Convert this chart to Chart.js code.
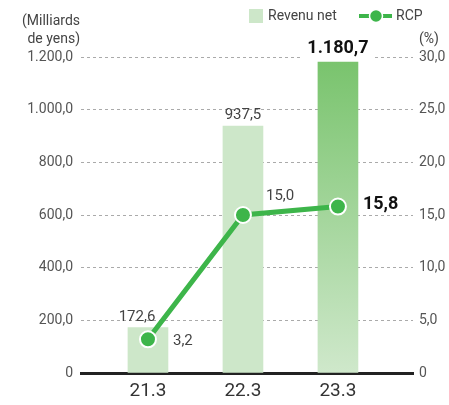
<!DOCTYPE html>
<html>
<head>
<meta charset="utf-8">
<script src="https://cdn.jsdelivr.net/npm/chart.js@4"></script>
<style>
  html, body { margin: 0; padding: 0; background: #fff; }
  #wrap { width: 449px; height: 405px; position: relative; }
</style>
</head>
<body>
<div id="wrap"><canvas id="graphique"></canvas></div>
<script>
// --- DONNEES ---
const categories = ["21.3", "22.3", "23.3"];
const revenuNet = [172.6, 937.5, 1180.7];
const rcp = [3.2, 15.0, 15.8];
const revenuLabels = ["172,6", "937,5", "1.180,7"];
const rcpLabels = ["3,2", "15,0", "15,8"];

const vertClair = "#cde7c9";
const vertLigne = "#3db54a";
const police = "Roboto, 'DejaVu Sans', sans-serif";

function fr(v, dec) {
  if (v === 0) return "0";
  const s = v.toFixed(dec).split(".");
  const ent = s[0].replace(/\B(?=(\d{3})+(?!\d))/g, ".");
  return ent + "," + s[1];
}

// --- PLUGIN: legende, titres, etiquettes ---
const decor = {
  id: "decor",
  afterDatasetsDraw(chart) {
    const ctx = chart.ctx;
    ctx.save();
    // titres d'axes
    ctx.fillStyle = "#444";
    ctx.font = "14px " + police;
    ctx.textBaseline = "middle";
    ctx.textAlign = "right";
    ctx.fillText("(Milliards", 80, 21);
    ctx.fillText("de yens)", 80, 39);
    ctx.textAlign = "left";
    ctx.fillText("(%)", 419, 39);

    // legende
    ctx.fillStyle = vertClair;
    ctx.fillRect(249, 9, 14, 14);
    ctx.fillStyle = "#444";
    ctx.fillText("Revenu net", 268, 16);
    ctx.strokeStyle = vertLigne;
    ctx.lineWidth = 4;
    ctx.beginPath();
    ctx.moveTo(359, 16);
    ctx.lineTo(392, 16);
    ctx.stroke();
    ctx.beginPath();
    ctx.arc(376, 16, 6.5, 0, Math.PI * 2);
    ctx.fillStyle = vertLigne;
    ctx.fill();
    ctx.strokeStyle = "#fff";
    ctx.lineWidth = 1.5;
    ctx.stroke();
    ctx.fillStyle = "#444";
    ctx.fillText("RCP", 396, 16);

    // etiquettes des barres
    const barres = chart.getDatasetMeta(1).data;
    barres.forEach((b, i) => {
      const dernier = i === barres.length - 1;
      ctx.font = (dernier ? "bold 18px " : "15px ") + police;
      ctx.textAlign = "center";
      const x = i === 0 ? b.x - 11 : b.x;
      const y = i === 0 ? b.y - 10 : b.y - (dernier ? 14 : 11);
      if (dernier) {
        const w = ctx.measureText(revenuLabels[i]).width;
        ctx.fillStyle = "#fff";
        ctx.fillRect(x - w / 2 - 5, y - 10, w + 10, 20);
      }
      ctx.fillStyle = dernier ? "#111" : "#444";
      ctx.fillText(revenuLabels[i], x, y);
    });

    // etiquettes RCP
    const points = chart.getDatasetMeta(0).data;
    points.forEach((p, i) => {
      const dernier = i === points.length - 1;
      ctx.font = (dernier ? "bold 18px " : "15px ") + police;
      ctx.textAlign = "left";
      ctx.fillStyle = dernier ? "#111" : "#444";
      if (i === 0) ctx.fillText(rcpLabels[i], p.x + 25, p.y + 2);
      else if (i === 1) ctx.fillText(rcpLabels[i], p.x + 23, p.y - 19);
      else ctx.fillText(rcpLabels[i], p.x + 25, p.y - 2);
    });
    ctx.restore();
  }
};

function degrade(context) {
  const chart = context.chart;
  const area = chart.chartArea;
  if (!area) return vertClair;
  if (context.dataIndex !== revenuNet.length - 1) return vertClair;
  const el = context.element;
  const haut = el && el.y ? el.y : area.top;
  const g = chart.ctx.createLinearGradient(0, haut, 0, area.bottom);
  g.addColorStop(0, "#78c36c");
  g.addColorStop(1, "#cfe8cb");
  return g;
}

const ctx = document.getElementById("graphique");
new Chart(ctx, {
  data: {
    datasets: [
      {
        type: "line",
        label: "RCP",
        data: rcp.map((v, i) => ({ x: i, y: v })),
        yAxisID: "y1",
        borderColor: vertLigne,
        borderWidth: 5,
        pointRadius: 8,
        pointBackgroundColor: vertLigne,
        pointBorderColor: "#fff",
        pointBorderWidth: 2,
        tension: 0,
        order: 0
      },
      {
        type: "bar",
        label: "Revenu net",
        data: revenuNet.map((v, i) => ({ x: i, y: v })),
        yAxisID: "y",
        backgroundColor: degrade,
        barThickness: 40,
        borderWidth: 0,
        order: 1
      }
    ]
  },
  options: {
    responsive: true,
    maintainAspectRatio: false,
    animation: false,
    layout: { padding: { top: 57, left: 0, right: 0, bottom: 0 } },
    plugins: { legend: { display: false }, tooltip: { enabled: false } },
    scales: {
      x: {
        type: "linear",
        offset: false,
        min: -0.705,
        max: 2.79,
        afterBuildTicks: (s) => { s.ticks = categories.map((c, i) => ({ value: i })); },
        afterFit: (s) => { s.height = 32; },
        ticks: {
          callback: (v) => categories[v],
          color: "#333",
          font: { family: police, size: 19 },
          padding: 7,
          maxRotation: 0
        },
        grid: { display: false, drawTicks: false, offset: false },
        border: { display: true, color: "#222", width: 3 }
      },
      y: {
        position: "left",
        min: 0,
        max: 1200,
        afterFit: (s) => { s.width = 81; },
        ticks: {
          stepSize: 200,
          callback: (v) => fr(v, 1),
          color: "#555",
          font: { family: police, size: 14 },
          padding: 8
        },
        grid: { color: "#aaa", lineWidth: 1, drawTicks: false },
        border: { display: false, dash: [3, 3] }
      },
      y1: {
        position: "right",
        min: 0,
        max: 30,
        afterFit: (s) => { s.width = 36; },
        ticks: {
          stepSize: 5,
          callback: (v) => fr(v, 1),
          color: "#555",
          font: { family: police, size: 14 },
          padding: 6
        },
        grid: { display: false, drawTicks: false },
        border: { display: false }
      }
    }
  },
  plugins: [decor]
});
</script>
</body>
</html>
